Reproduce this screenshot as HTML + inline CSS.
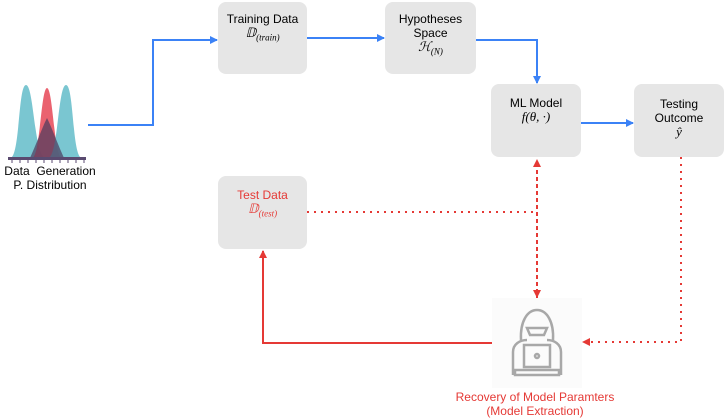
<!DOCTYPE html>
<html><head><style>
body{margin:0;width:725px;height:420px;background:#fff;font-family:"Liberation Sans",sans-serif;position:relative;overflow:hidden}
.b{position:absolute;background:#e6e6e6;border-radius:8px;text-align:center;font-size:12px;color:#000;line-height:14px;box-sizing:border-box;padding-top:10px}
.m{font-family:"Liberation Serif",serif;font-style:italic;font-size:13px}
.t{position:absolute;font-size:12px;text-align:center;line-height:14px}
</style></head><body>
<div class="b" style="left:218px;top:2px;width:89px;height:72px">Training Data<br><span class="m">𝔻<sub style="font-size:9px">(train)</sub></span></div>
<div class="b" style="left:385px;top:2px;width:91px;height:72px">Hypotheses<br>Space<br><span class="m">ℋ<sub style="font-size:9px">(N)</sub></span></div>
<div class="b" style="left:491px;top:84px;width:90px;height:73px;padding-top:12px">ML Model<br><span class="m">f(θ, ·)</span></div>
<div class="b" style="left:634px;top:84px;width:90px;height:73px;padding-top:13px">Testing<br>Outcome<br><span class="m">ŷ</span></div>
<div class="b" style="left:218px;top:176px;width:89px;height:73px;color:#e53935;padding-top:12px">Test Data<br><span class="m">𝔻<sub style="font-size:9px">(test)</sub></span></div>
<div class="t" style="left:0;top:164px;width:100px">Data&nbsp; Generation<br>P. Distribution</div>
<div class="t" style="left:420px;top:390px;width:230px;color:#e53935">Recovery of Model Paramters<br>(Model Extraction)</div>
<svg width="725" height="420" style="position:absolute;left:0;top:0">
<defs>
<marker id="ab" markerWidth="8" markerHeight="8" refX="7" refY="4" orient="auto" markerUnits="userSpaceOnUse"><path d="M0,0L8,4L0,8z" fill="#3b82f6"/></marker>
<marker id="ar" markerWidth="8" markerHeight="8" refX="7" refY="4" orient="auto" markerUnits="userSpaceOnUse"><path d="M0,0L8,4L0,8z" fill="#e53935"/></marker>
</defs>
<path d="M10,158 C20,158 18,85 26,85 C34,85 34,158 46,158Z" fill="#6cc0cc" opacity=".9"/>
<path d="M32,158 C40,158 41,88 47,88 C53,88 54,158 62,158Z" fill="#e8515f" opacity=".9"/>
<path d="M48,158 C58,158 58,85 66,85 C74,85 72,158 82,158Z" fill="#6cc0cc" opacity=".9"/>
<path d="M30,158 C38,140 42,128 47,118 C52,128 56,140 64,158Z" fill="#4a3b5c" opacity=".7"/>
<rect x="8" y="157" width="78" height="3" fill="#5a4a70"/>
<g stroke="#5a4a70" stroke-width="1"><path d="M12,160v3M20,160v3M28,160v3M36,160v3M44,160v3M52,160v3M60,160v3M68,160v3M76,160v3M84,160v3"/></g>
<g fill="none" stroke="#3b82f6" stroke-width="2">
<path d="M88,125H153V40H217" marker-end="url(#ab)"/>
<path d="M307,38H384" marker-end="url(#ab)"/>
<path d="M476,40H537V83" marker-end="url(#ab)"/>
<path d="M581,123H633" marker-end="url(#ab)"/>
</g>
<g fill="none" stroke="#e53935" stroke-width="2" stroke-dasharray="2,5">
<path d="M681,157V342H583" marker-end="url(#ar)"/>
<path d="M537,298V160" marker-end="url(#ar)"/>
<path d="M537,165V297" marker-end="url(#ar)"/>
<path d="M307,212H537"/>
</g>
<path d="M492,343H263V251" fill="none" stroke="#e53935" stroke-width="2" marker-end="url(#ar)"/>
<rect x="492" y="298" width="90" height="90" fill="#fbfbfb"/>
<g fill="none" stroke="#a8a8a8" stroke-width="2.5">
<path d="M521,340 C520,322 527,310 537,310 C547,310 554,322 553,340"/>
<path d="M527,328 H547 L544,335 H530Z"/>
<path d="M513,375 V352 C513,344 520,340 527,340 M561,375 V352 C561,344 554,340 547,340"/>
<rect x="524" y="345" width="26" height="22"/>
<path d="M515,370H559V375H515Z"/>
<circle cx="537" cy="356" r="2"/>
</g>
</svg>
</body></html>
